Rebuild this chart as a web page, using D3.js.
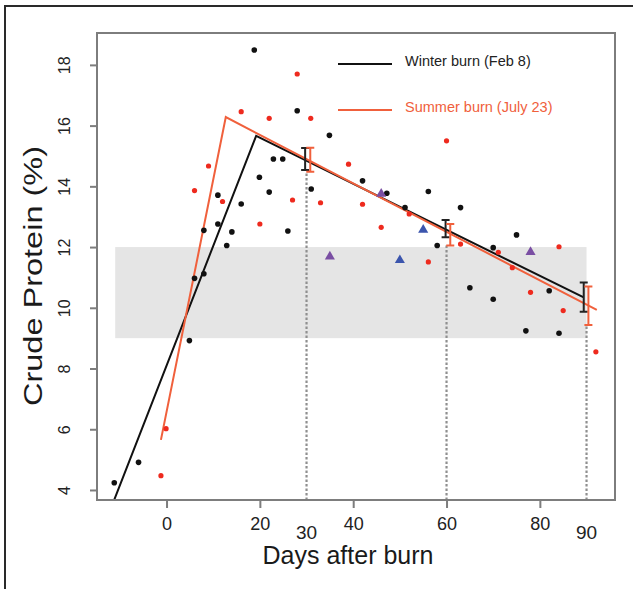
<!DOCTYPE html>
<html>
<head>
<meta charset="utf-8">
<script src="https://cdn.jsdelivr.net/npm/d3@7"></script>
<style>
  body { margin: 0; background: #fff; }
  svg { display: block; font-family: "Liberation Sans", Arial, sans-serif; }
</style>
</head>
<body>
<svg id="chart" width="633" height="589"></svg>
<script>
// winter burn (Feb 8) samples: [day, crude protein %]
const winterPoints = [
  [18.8, 18.49], [28.0, 16.49], [34.9, 15.68], [22.9, 14.90], [24.9, 14.90],
  [19.9, 14.30], [22.0, 13.81], [31.0, 13.91], [11.0, 13.71], [16.0, 13.42],
  [8.0, 12.55], [11.0, 12.76], [14.0, 12.50], [26.0, 12.53], [12.9, 12.05],
  [8.0, 11.12], [6.0, 10.97], [42.0, 14.18], [47.2, 13.77], [56.1, 13.83],
  [51.1, 13.30], [63.0, 13.30], [58.0, 12.05], [75.0, 12.40], [70.0, 11.98],
  [65.0, 10.66], [82.0, 10.56], [70.0, 10.28], [77.0, 9.24], [84.1, 9.16],
  [4.9, 8.92], [-6.0, 4.91], [-11.2, 4.24]
]
// summer burn (July 23) samples
const summerPoints = [
  [28.0, 17.70], [16.0, 16.46], [22.0, 16.24], [30.9, 16.24], [60.0, 15.50],
  [9.0, 14.67], [39.0, 14.73], [6.0, 13.86], [12.0, 13.50], [27.0, 13.55],
  [33.0, 13.46], [20.0, 12.76], [42.0, 13.41], [52.0, 13.09], [46.0, 12.65],
  [63.0, 12.10], [71.1, 11.83], [84.1, 12.01], [56.1, 11.51], [74.1, 11.32],
  [78.0, 10.51], [85.0, 9.91], [92.0, 8.55], [-0.1, 6.02], [-1.2, 4.47]
]
const purpleTriangles = [[35.0, 11.72], [46.0, 13.79], [78.0, 11.87]]
const blueTriangles = [[55.0, 12.60], [50.0, 11.60]]

// fitted broken-line models
const winterFit = [[-11.4, 3.6], [19.2, 15.66], [89.4, 10.34]]
const summerFit = [[-1.2, 5.65], [12.7, 16.28], [92.2, 9.93]]

// error bars at 30, 60, 90 days: [day, low, high]
const winterBars = [[29.7, 14.54, 15.26], [59.8, 12.32, 12.89], [89.4, 9.87, 10.83]]
const summerBars = [[30.8, 14.48, 15.27], [60.8, 12.05, 12.76], [90.4, 9.43, 10.70]]

const refDays = [30, 60, 90]
const xTicks = [0, 20, 40, 60, 80]
const yTicks = [4, 6, 8, 10, 12, 14, 16, 18]
const band = [-11, 90, 9, 12]

const BLACK = '#111'
const RED = '#f0603c'
const DOT_RED = '#ee2a1e'

const svg = d3.select('#chart')

const x = d3.scaleLinear().domain([-14.9, 96.1]).range([97, 615])
const y = d3.scaleLinear().domain([3.67, 19.05]).range([500, 33])

// outer figure border (left + top)
svg.append('path').attr('d', 'M5,589V6H633').attr('fill', 'none').attr('stroke', '#2a2a2a').attr('stroke-width', 2)

svg.append('clipPath').attr('id', 'plotclip').append('rect')
  .attr('x', x.range()[0]).attr('y', y.range()[1])
  .attr('width', x.range()[1] - x.range()[0]).attr('height', y.range()[0] - y.range()[1])

// gray reference band
svg.append('rect')
  .attr('x', x(band[0])).attr('width', x(band[1]) - x(band[0]))
  .attr('y', y(band[3])).attr('height', y(band[2]) - y(band[3]))
  .attr('fill', '#e5e5e5')

// dotted verticals up to the lower end of each error bar
svg.selectAll('.ref').data(refDays).join('line')
  .attr('class', 'ref')
  .attr('x1', d => x(d)).attr('x2', d => x(d))
  .attr('y1', y.range()[0])
  .attr('y2', (d, i) => y(Math.min(winterBars[i][1], summerBars[i][1])))
  .attr('stroke', '#8f8f8f').attr('stroke-width', 2.2).attr('stroke-dasharray', '2.5,2')

const plot = svg.append('g').attr('clip-path', 'url(#plotclip)')
const line = d3.line().x(d => x(d[0])).y(d => y(d[1]))

plot.append('path').datum(winterFit).attr('d', line)
  .attr('fill', 'none').attr('stroke', BLACK).attr('stroke-width', 2)
plot.append('path').datum(summerFit).attr('d', line)
  .attr('fill', 'none').attr('stroke', RED).attr('stroke-width', 2)

function drawBars (data, color) {
  const g = svg.append('g').attr('stroke', color).attr('stroke-width', 2).attr('fill', 'none')
  g.selectAll('path').data(data).join('path')
    .attr('d', d => {
      const cx = x(d[0]), lo = y(d[1]), hi = y(d[2])
      return `M${cx - 4},${hi}H${cx + 4}M${cx},${hi}V${lo}M${cx - 4},${lo}H${cx + 4}`
    })
}
drawBars(winterBars, '#222')
drawBars(summerBars, RED)

svg.append('g').selectAll('circle').data(winterPoints).join('circle')
  .attr('cx', d => x(d[0])).attr('cy', d => y(d[1])).attr('r', 2.8).attr('fill', BLACK)
svg.append('g').selectAll('circle').data(summerPoints).join('circle')
  .attr('cx', d => x(d[0])).attr('cy', d => y(d[1])).attr('r', 2.6).attr('fill', DOT_RED)

const tri = d3.symbol().type(d3.symbolTriangle).size(44)
svg.append('g').selectAll('path').data(purpleTriangles).join('path')
  .attr('d', tri).attr('transform', d => `translate(${x(d[0])},${y(d[1]) + 1})`).attr('fill', '#7a4ea3')
svg.append('g').selectAll('path').data(blueTriangles).join('path')
  .attr('d', tri).attr('transform', d => `translate(${x(d[0])},${y(d[1]) + 1})`).attr('fill', '#3b55ad')

// frame
svg.append('rect')
  .attr('x', x.range()[0]).attr('y', y.range()[1])
  .attr('width', x.range()[1] - x.range()[0]).attr('height', y.range()[0] - y.range()[1])
  .attr('fill', 'none').attr('stroke', '#7d7d7d').attr('stroke-width', 2)

// axes
const xAxis = svg.append('g').attr('transform', `translate(0,${y.range()[0]})`)
  .call(d3.axisBottom(x).tickValues(xTicks).tickSize(8).tickPadding(9))
xAxis.select('.domain').remove()
xAxis.selectAll('line').attr('stroke', '#7d7d7d').attr('stroke-width', 2)
xAxis.selectAll('text').attr('font-size', 18).attr('fill', '#222').attr('font-family', null)

svg.append('g').selectAll('text').data([30, 90]).join('text')
  .attr('x', d => x(d)).attr('y', 539)
  .attr('text-anchor', 'middle').attr('font-size', 19).attr('fill', '#222')
  .text(d => d)

const yAxis = svg.append('g').attr('transform', `translate(${x.range()[0]},0)`)
  .call(d3.axisLeft(y).tickValues(yTicks).tickSize(7))
yAxis.select('.domain').remove()
yAxis.selectAll('line').attr('stroke', '#7d7d7d').attr('stroke-width', 2)
yAxis.selectAll('text')
  .attr('font-size', 16).attr('fill', '#222').attr('font-family', null)
  .attr('x', null).attr('dy', null)
  .attr('text-anchor', 'middle')
  .attr('transform', 'translate(-27,0) rotate(-90)')

svg.append('text')
  .attr('x', 348).attr('y', 564)
  .attr('text-anchor', 'middle').attr('font-size', 25).attr('fill', '#1a1a1a')
  .text('Days after burn')

svg.append('text')
  .attr('transform', 'translate(42,276) rotate(-90) scale(1.3,1)')
  .attr('text-anchor', 'middle').attr('font-size', 25).attr('fill', '#1a1a1a')
  .text('Crude Protein (%)')

// legend
const legend = [
  { label: 'Winter burn (Feb 8)', color: BLACK, text: '#222', y: 64 },
  { label: 'Summer burn (July 23)', color: RED, text: RED, y: 110 }
]
const lg = svg.append('g')
lg.selectAll('line').data(legend).join('line')
  .attr('x1', 338).attr('x2', 392).attr('y1', d => d.y).attr('y2', d => d.y)
  .attr('stroke', d => d.color).attr('stroke-width', 2)
lg.selectAll('text').data(legend).join('text')
  .attr('x', 405).attr('y', d => d.y + 2)
  .attr('font-size', 14.5).attr('fill', d => d.text)
  .text(d => d.label)
</script>
</body>
</html>
